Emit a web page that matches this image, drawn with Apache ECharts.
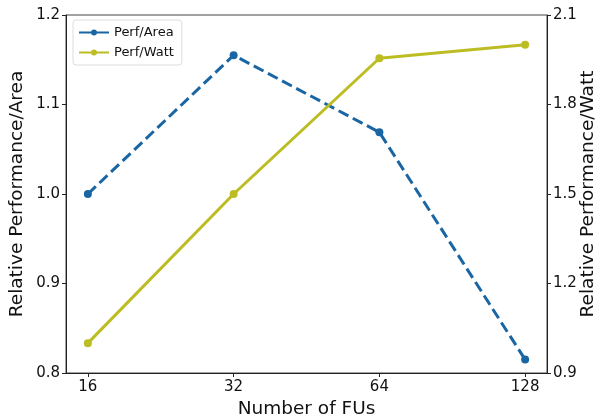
<!DOCTYPE html>
<html><head><meta charset="utf-8">
<script src="https://cdn.jsdelivr.net/npm/echarts@6/dist/echarts.min.js"></script>
<style>html,body{margin:0;padding:0;background:#fff}#c{width:600px;height:419px}</style>
</head><body><div id="c"></div>
<script>
var categories = ["16", "32", "64", "128"];
var perfArea = [1.0, 1.155, 1.069, 0.815];
var perfWatt = [1.0, 1.50, 1.955, 2.0];
var leftTicks = [0.8, 0.9, 1.0, 1.1, 1.2];
var rightTicks = [0.9, 1.2, 1.5, 1.8, 2.1];

var idx = categories.map(function(_, i){ return i; });
var font = 'DejaVu Sans';
var chart = echarts.init(document.getElementById('c'));
chart.setOption({
  animation: false,
  textStyle: {fontFamily: font},
  grid: {left: 66, right: 53, top: 15, bottom: 46, show: true, borderColor: '#444', borderWidth: 1,
         containLabel: false, outerBoundsMode: 'none'},
  legend: {
    left: 73, top: 20, orient: 'vertical', itemGap: 7,
    itemWidth: 30, itemHeight: 10,
    backgroundColor: '#fff', borderColor: '#ddd', borderWidth: 1, borderRadius: 3,
    padding: [6, 8, 6, 6],
    textStyle: {fontSize: 13, color: '#111', fontFamily: font},
    data: [
      {name: 'Perf/Area', icon: 'path://M0,4 L30,4 L30,6 L0,6 Z M15,2 A3,3 0 1 1 15,8 A3,3 0 1 1 15,2 Z'},
      {name: 'Perf/Watt', icon: 'path://M0,4 L30,4 L30,6 L0,6 Z M15,2 A3,3 0 1 1 15,8 A3,3 0 1 1 15,2 Z'}
    ]
  },
  xAxis: {
    type: 'value', min: -0.15, max: 3.15,
    name: 'Number of FUs', nameLocation: 'middle', nameGap: 27, nameMoveOverlap: false,
    nameTextStyle: {fontSize: 18.5, color: '#111', fontFamily: font},
    axisLine: {show: true, onZero: false, lineStyle: {color: '#222'}},
    axisTick: {show: true, customValues: idx, length: 4, lineStyle: {color: '#222'}},
    axisLabel: {customValues: idx, fontSize: 15, color: '#111', margin: 7,
      formatter: function(v){ return categories[Math.round(v)]; }},
    splitLine: {show: false}
  },
  yAxis: [{
    type: 'value', min: leftTicks[0], max: leftTicks[leftTicks.length-1], interval: 0.1,
    name: 'Relative Performance/Area', nameLocation: 'middle', nameGap: 39, nameMoveOverlap: false,
    nameTextStyle: {fontSize: 18.5, color: '#111', fontFamily: font},
    axisLine: {show: true, onZero: false, lineStyle: {color: '#222'}},
    axisTick: {show: true, length: 4, lineStyle: {color: '#222'}},
    axisLabel: {fontSize: 15, color: '#111', margin: 6, formatter: function(v){ return v.toFixed(1); }},
    splitLine: {show: false}
  }, {
    type: 'value', min: rightTicks[0], max: rightTicks[rightTicks.length-1], interval: 0.3,
    name: 'Relative Performance/Watt', nameLocation: 'middle', nameGap: 32, nameRotate: 90, nameMoveOverlap: false,
    nameTextStyle: {fontSize: 18.5, color: '#111', fontFamily: font},
    axisLine: {show: true, onZero: false, lineStyle: {color: '#222'}},
    axisTick: {show: true, length: 4, lineStyle: {color: '#222'}},
    axisLabel: {fontSize: 15, color: '#111', margin: 6, formatter: function(v){ return v.toFixed(1); }},
    splitLine: {show: false}
  }],
  series: [{
    name: 'Perf/Area', type: 'line', yAxisIndex: 0,
    data: idx.map(function(i){ return [i, perfArea[i]]; }),
    symbol: 'circle', symbolSize: 8,
    itemStyle: {color: '#1a66a4'},
    lineStyle: {color: '#1a66a4', width: 3, type: [11, 5]}
  }, {
    name: 'Perf/Watt', type: 'line', yAxisIndex: 1,
    data: idx.map(function(i){ return [i, perfWatt[i]]; }),
    symbol: 'circle', symbolSize: 8,
    itemStyle: {color: '#bcbd22'},
    lineStyle: {color: '#bcbd22', width: 3}
  }]
});
</script></body></html>
